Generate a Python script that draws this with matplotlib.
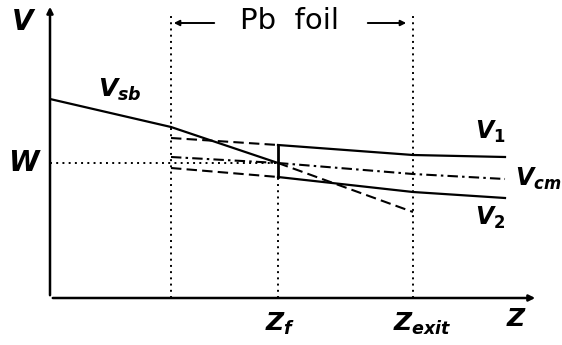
import numpy as np
import matplotlib.pyplot as plt

plt.rcParams['mathtext.fontset'] = 'custom'
plt.rcParams['mathtext.it'] = 'DejaVu Sans:italic:bold'
plt.rcParams['mathtext.rm'] = 'DejaVu Sans:bold'

# Positions along the beam axis (arbitrary units)
z_entry = 12.1
z_f = 22.8
z_exit = 36.3
z_end = 45.5
z_top = 28.6

# Potential levels
W = 13.5
z_sb = [0, z_entry, z_f]
v_sb = [19.9, 17.1, W]
v_sb_ext = [W, 8.6]

v1_in = [16.0, 15.3]
v1_out = [15.3, 14.3, 14.1]
v2_in = [13.0, 12.1]
v2_out = [12.1, 10.6, 10.0]
vcm_in = [14.1, W]
vcm_out = [W, 12.4, 11.9]

fig = plt.figure(figsize=(5.62, 3.45), dpi=100)
ax = fig.add_axes([50 / 562, 47 / 345, 512 / 562, 298 / 345])
ax.set_xlim(0, 51.2)
ax.set_ylim(0, 29.8)
ax.axis('off')

lw = 1.6
dot = (0, (1, 2.2))
dash = (0, (5, 2.5))
dashdot = (0, (5, 2, 1.2, 2))

# axes with arrows
ax.annotate('', xy=(0, 29.4), xytext=(0, 0),
            arrowprops=dict(arrowstyle='-|>', lw=1.8, color='k', mutation_scale=9),
            annotation_clip=False)
ax.annotate('', xy=(48.8, 0), xytext=(0, 0),
            arrowprops=dict(arrowstyle='-|>', lw=1.8, color='k', mutation_scale=9),
            annotation_clip=False)

# foil boundaries and markers
ax.plot([z_entry, z_entry], [0, z_top], color='k', lw=1.4, ls=dot)
ax.plot([z_exit, z_exit], [0, z_top], color='k', lw=1.4, ls=dot)
ax.plot([z_f, z_f], [0, v2_in[1]], color='k', lw=1.4, ls=dot)
ax.plot([0, z_f], [W, W], color='k', lw=1.4, ls=dot)

# space-charge potential and its extrapolation
ax.plot(z_sb, v_sb, color='k', lw=lw)
ax.plot([z_f, z_exit], v_sb_ext, color='k', lw=1.5, ls=dash)

# inside the foil before the split
ax.plot([z_entry, z_f], v1_in, color='k', lw=1.5, ls=dash)
ax.plot([z_entry, z_f], v2_in, color='k', lw=1.5, ls=dash)
ax.plot([z_entry, z_f], vcm_in, color='k', lw=1.5, ls=dashdot)

# after the split
ax.plot([z_f, z_f], [v2_out[0], v1_out[0]], color='k', lw=2.0)
ax.plot([z_f, z_exit, z_end], v1_out, color='k', lw=lw)
ax.plot([z_f, z_exit, z_end], v2_out, color='k', lw=lw)
ax.plot([z_f, z_exit, z_end], vcm_out, color='k', lw=1.5, ls=dashdot)

# foil annotation
ax.text(24.0, 27.7, 'Pb  foil', fontsize=21, ha='center', va='center')
ax.annotate('', xy=(z_entry, 27.5), xytext=(16.7, 27.5),
            arrowprops=dict(arrowstyle='-|>', lw=1.4, color='k', mutation_scale=8))
ax.annotate('', xy=(z_exit - 0.4, 27.5), xytext=(31.5, 27.5),
            arrowprops=dict(arrowstyle='-|>', lw=1.4, color='k', mutation_scale=8))

# labels
ax.text(-2.6, 27.6, '$V$', fontsize=20, ha='center', va='center')
ax.text(-2.5, W, '$W$', fontsize=20, ha='center', va='center')
ax.text(7.0, 20.8, '$V_{sb}$', fontsize=18, ha='center', va='center')
ax.text(44.0, 16.6, '$V_1$', fontsize=17, ha='center', va='center')
ax.text(48.8, 11.9, '$V_{cm}$', fontsize=17, ha='center', va='center')
ax.text(44.0, 8.0, '$V_2$', fontsize=17, ha='center', va='center')
ax.text(23.0, -2.6, '$Z_f$', fontsize=18, ha='center', va='center')
ax.text(37.2, -2.6, '$Z_{exit}$', fontsize=18, ha='center', va='center')
ax.text(46.7, -2.1, '$Z$', fontsize=18, ha='center', va='center')

fig.savefig('out.png', dpi=100)
